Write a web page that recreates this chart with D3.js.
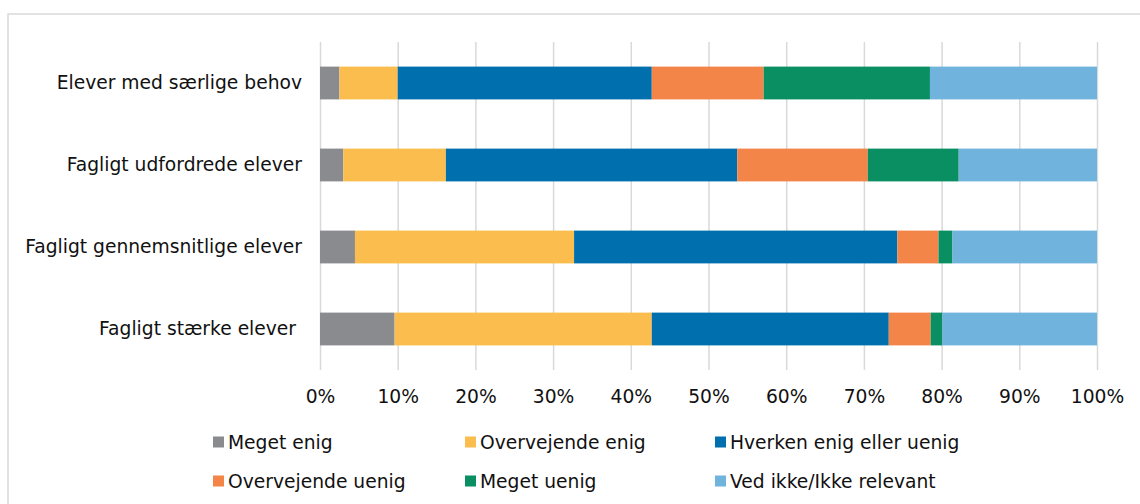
<!DOCTYPE html>
<html>
<head>
<meta charset="utf-8">
<script src="https://cdn.jsdelivr.net/npm/d3@7"></script>
<style>
  body { margin: 0; background: #fff; }
  svg { display: block; font-family: "DejaVu Sans", Verdana, sans-serif; }
</style>
</head>
<body>
<div id="chart"></div>
<script>
var width = 1140;
var height = 504;
var fontSize = "18.7px";

// categories top to bottom (last one has a trailing space in the original)
var categories = ["Elever med særlige behov", "Fagligt udfordrede elever", "Fagligt gennemsnitlige elever", "Fagligt stærke elever "];
var seriesNames = ["Meget enig", "Overvejende enig", "Hverken enig eller uenig", "Overvejende uenig", "Meget uenig", "Ved ikke/Ikke relevant"];
var seriesColors = ["#898b8e", "#fbbd4e", "#006fae", "#f38549", "#0a8f62", "#70b3dc"];

// percentages per category
var megetEnig        = [2.5, 3.0, 4.5, 9.6];
var overvejendeEnig  = [7.5, 13.2, 28.2, 33.1];
var hverken          = [32.7, 37.5, 41.6, 30.5];
var overvejendeUenig = [14.4, 16.8, 5.3, 5.4];
var megetUenig       = [21.4, 11.7, 1.8, 1.5];
var vedIkke          = [21.5, 17.8, 18.6, 19.9];

var tickValues = [0, 10, 20, 30, 40, 50, 60, 70, 80, 90, 100];

var allSeries = [megetEnig, overvejendeEnig, hverken, overvejendeUenig, megetUenig, vedIkke];

// build rows for d3.stack
var rows = categories.map(function (c, i) {
    var row = { category: c };
    seriesNames.forEach(function (s, j) { row[s] = allSeries[j][i]; });
    return row;
});
var stacked = d3.stack().keys(seriesNames)(rows);

var xScale = d3.scaleLinear().domain([0, 100]).range([320, 1097]);
var yScale = d3.scaleBand().domain(categories).range([42, 370]).paddingInner(0.6).paddingOuter(0.3);
var color = d3.scaleOrdinal().domain(seriesNames).range(seriesColors);

var svg = d3.select("#chart")
    .append("svg")
    .attr("width", width)
    .attr("height", height);

// outer frame (only top and left edges are visible)
svg.append("rect")
    .attr("x", 8)
    .attr("y", 14)
    .attr("width", 1200)
    .attr("height", 600)
    .attr("fill", "none")
    .attr("stroke", "#d9d9d9")
    .attr("stroke-width", 1.5);

// vertical gridlines
svg.append("g")
    .attr("class", "grid")
    .attr("transform", "translate(0,370)")
    .call(d3.axisBottom(xScale).tickValues(tickValues).tickSize(-(370 - 42)).tickFormat(""))
    .call(function (g) { g.select(".domain").remove(); })
    .selectAll("line")
    .attr("stroke", "#d9d9d9")
    .attr("stroke-width", 1.5);

// bars
svg.append("g")
    .selectAll("g")
    .data(stacked)
    .enter()
    .append("g")
    .attr("fill", function (d) { return color(d.key); })
    .selectAll("rect")
    .data(function (d) { return d; })
    .enter()
    .append("rect")
    .attr("x", function (d) { return xScale(d[0]); })
    .attr("y", function (d) { return yScale(d.data.category); })
    .attr("width", function (d) { return xScale(d[1]) - xScale(d[0]); })
    .attr("height", yScale.bandwidth());

// x axis labels
svg.append("g")
    .attr("transform", "translate(0,370)")
    .call(d3.axisBottom(xScale).tickValues(tickValues).tickSize(0).tickPadding(20)
        .tickFormat(function (d) { return d + "%"; }))
    .call(function (g) { g.select(".domain").remove(); })
    .selectAll("text")
    .attr("font-size", fontSize)
    .attr("font-family", "DejaVu Sans, Verdana, sans-serif")
    .attr("fill", "#111");

// category labels
svg.append("g")
    .attr("transform", "translate(320,0)")
    .call(d3.axisLeft(yScale).tickSize(0).tickPadding(18))
    .call(function (g) { g.select(".domain").remove(); })
    .selectAll("text")
    .style("white-space", "pre")
    .attr("font-size", fontSize)
    .attr("font-family", "DejaVu Sans, Verdana, sans-serif")
    .attr("fill", "#111");

// legend: 3 columns, 2 rows
var legendCols = [213, 465, 715];
var legendRows = [442, 481];

var legend = svg.append("g")
    .selectAll("g")
    .data(seriesNames)
    .enter()
    .append("g")
    .attr("transform", function (d, i) {
        return "translate(" + legendCols[i % 3] + "," + legendRows[Math.floor(i / 3)] + ")";
    });

legend.append("rect")
    .attr("x", 0)
    .attr("y", -5.5)
    .attr("width", 11)
    .attr("height", 11)
    .attr("fill", function (d) { return color(d); });

legend.append("text")
    .attr("x", 15)
    .attr("y", 0)
    .attr("dy", "0.35em")
    .attr("font-size", fontSize)
    .attr("fill", "#111")
    .text(function (d) { return d; });
</script>
</body>
</html>
